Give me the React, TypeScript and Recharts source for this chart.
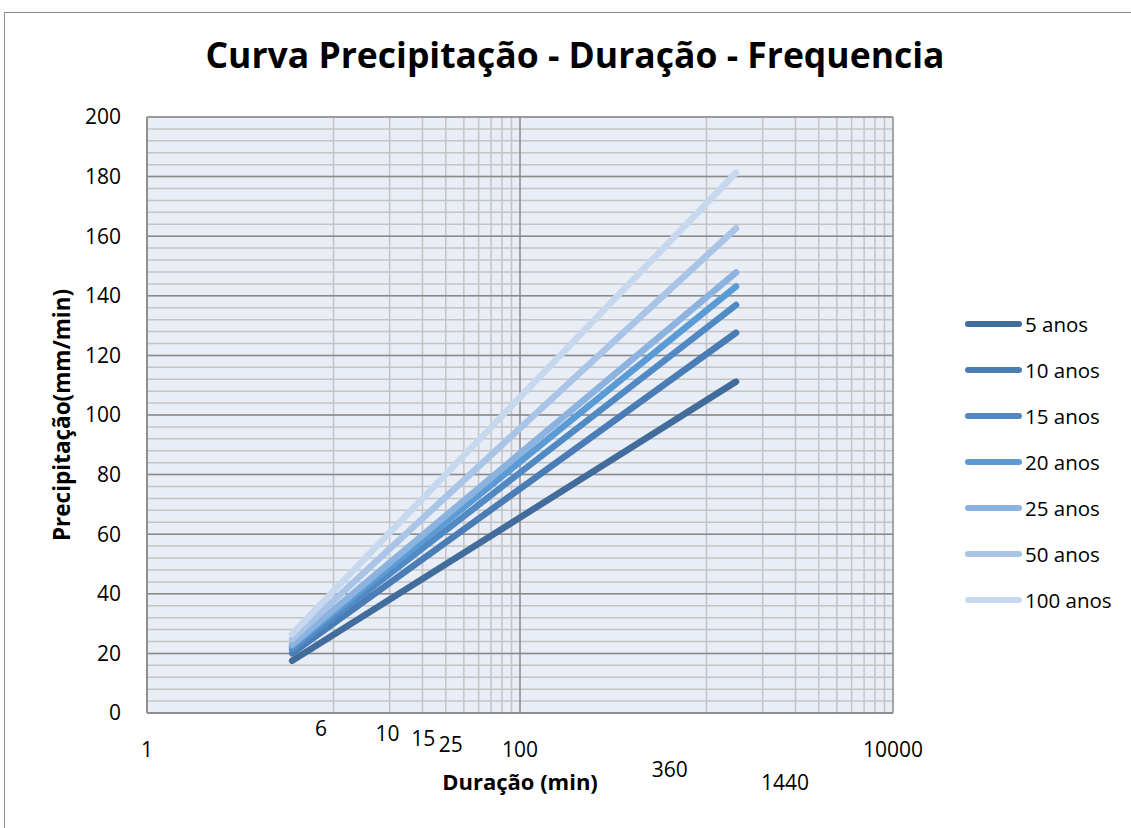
import { LineChart, Line, XAxis, YAxis, CartesianGrid, ReferenceDot, Label } from "recharts";

// durations (min) and precipitation per return period
const durations = [6, 1440];
const seriesNames = ["5 anos", "10 anos", "15 anos", "20 anos", "25 anos", "50 anos", "100 anos"];
const anos5 = [17.5, 111.2];
const anos10 = [20.0, 127.6];
const anos15 = [21.3, 136.9];
const anos20 = [22.3, 143.1];
const anos25 = [23.0, 147.8];
const anos50 = [24.8, 162.6];
const anos100 = [26.5, 181.3];
const seriesValues = [anos5, anos10, anos15, anos20, anos25, anos50, anos100];
const colors = ["#416C9B", "#4A7DB5", "#5189C4", "#5B9BD5", "#8CB3DF", "#A9C4E6", "#C6D8EE"];

const xTicks = [1, 100, 10000];
const yTicks = [0, 20, 40, 60, 80, 100, 120, 140, 160, 180, 200];
// loose duration labels drawn under the axis
const extraLabels = ["6", "10", "15", "25", "360", "1440"];
const extraLabelValues = [6, 10, 15, 25, 360, 1440];
const extraLabelOffsets = [
  [29, 23],
  [54, 28],
  [57, 33],
  [43, 39],
  [46, 64],
  [49, 77],
];

const data = durations.map((d, i) => {
  const row: Record<string, number> = { d };
  seriesNames.forEach((n, k) => (row[n] = seriesValues[k][i]));
  return row;
});

// axis uses log base 100: majors at 1, 100, 10000, minors at 10..90 and 1000..9000
const minorY = Array.from({ length: 51 }, (_, i) => i * 4);
const majorY = yTicks;
const minorX = [1, 2, 3, 4, 5, 6, 7, 8, 9].flatMap((m) => [m * 10, m * 1000]);
const majorX = xTicks;

const font = "'Open Sans', sans-serif";

function LegendBox() {
  return (
    <div style={{ position: "absolute", left: 965, top: 301, fontFamily: font, fontSize: 20.5, color: "#000" }}>
      {seriesNames.map((n, i) => (
        <div key={n} style={{ display: "flex", alignItems: "center", height: 46 }}>
          <div style={{ width: 57, height: 6, borderRadius: 3, background: colors[i], marginRight: 3 }} />
          <span>{n}</span>
        </div>
      ))}
    </div>
  );
}

export default function App() {
  return (
    <div style={{ position: "absolute", left: 0, top: 0, width: 1131, height: 828, background: "#fff" }}>
      <div
        style={{
          position: "absolute",
          left: 4,
          top: 12,
          right: 0,
          bottom: 0,
          borderTop: "1.5px solid #8c8c8c",
          borderLeft: "1.5px solid #8c8c8c",
        }}
      />
      <div
        style={{
          position: "absolute",
          top: 30,
          left: 0,
          width: 1150,
          textAlign: "center",
          fontFamily: font,
          fontWeight: 700,
          fontSize: 35.5,
          color: "#000",
        }}
      >
        Curva Precipitação - Duração - Frequencia
      </div>
      <LineChart
        width={1131}
        height={828}
        data={data}
        margin={{ top: 117, right: 238, bottom: 75, left: 70 }}
        style={{ position: "absolute", left: 0, top: 0 }}
      >
        <CartesianGrid
          horizontalValues={minorY}
          verticalValues={minorX}
          stroke="#c4c4c4"
          strokeWidth={1.5}
          fill="#E9EDF5"
        />
        <CartesianGrid horizontalValues={majorY} verticalValues={majorX} stroke="#8a8a8a" strokeWidth={1.5} />
        <XAxis
          dataKey="d"
          type="number"
          scale="log"
          domain={[1, 10000]}
          ticks={xTicks}
          interval={0}
          height={40}
          allowDataOverflow
          tickLine={false}
          axisLine={{ stroke: "#8a8a8a", strokeWidth: 1.5 }}
          tick={{ fill: "#000", fontSize: 21, fontFamily: font }}
          tickMargin={23}
        >
          <Label
            value="Duração (min)"
            position="bottom"
            offset={21}
            style={{ fontFamily: font, fontWeight: 700, fontSize: 22, fill: "#000" }}
          />
        </XAxis>
        <YAxis
          type="number"
          domain={[0, 200]}
          ticks={yTicks}
          interval={0}
          width={77}
          tickLine={false}
          axisLine={{ stroke: "#8a8a8a", strokeWidth: 1.5 }}
          tick={{ fill: "#000", fontSize: 21, fontFamily: font }}
          tickMargin={20}
        >
          <Label
            value="Precipitação(mm/min)"
            angle={-90}
            position="insideLeft"
            offset={-8}
            style={{ fontFamily: font, fontWeight: 700, fontSize: 22.5, fill: "#000", textAnchor: "middle" }}
          />
        </YAxis>
        {extraLabels.map((t, i) => (
          <ReferenceDot
            key={t}
            x={extraLabelValues[i]}
            y={0}
            r={1}
            ifOverflow="visible"
            shape={(p: any) => (
              <text
                x={p.cx + extraLabelOffsets[i][0]}
                y={p.cy + extraLabelOffsets[i][1]}
                textAnchor="middle"
                style={{ fontFamily: font, fontSize: 21, fill: "#000" }}
              >
                {t}
              </text>
            )}
          />
        ))}
        {seriesNames.map((n, i) => (
          <Line
            key={n}
            dataKey={n}
            stroke={colors[i]}
            strokeWidth={6.5}
            strokeLinecap="round"
            dot={false}
            isAnimationActive={false}
          />
        ))}
      </LineChart>
      <LegendBox />
    </div>
  );
}
